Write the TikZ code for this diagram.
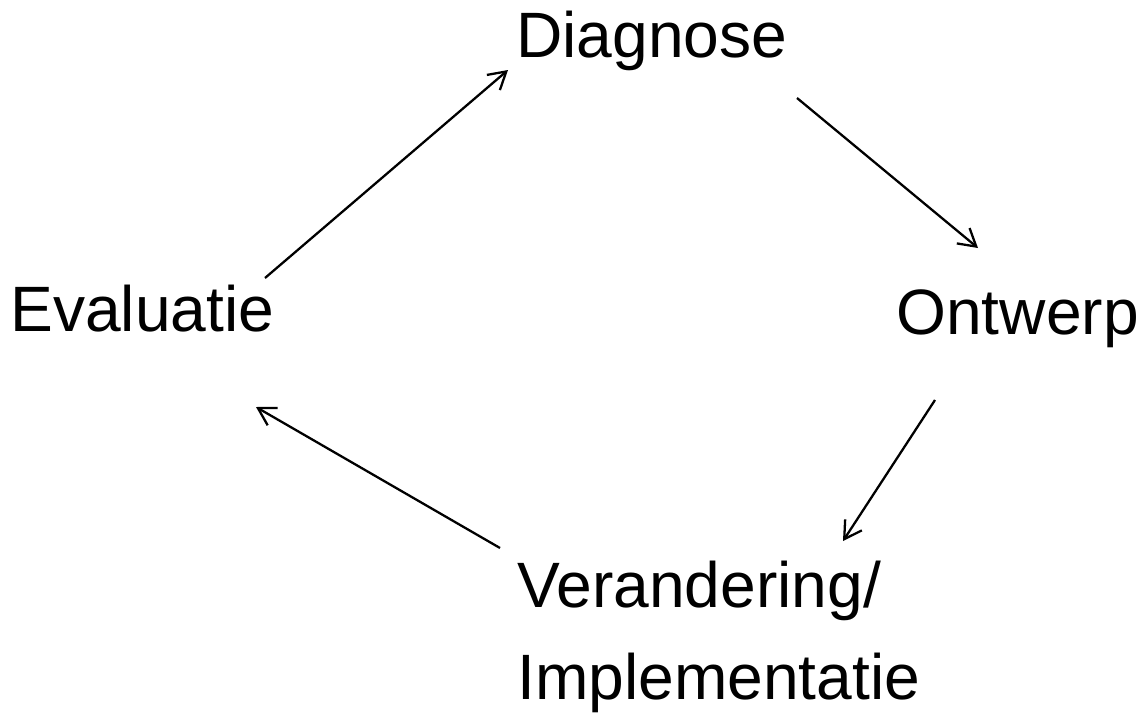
\documentclass[tikz,border=0pt]{standalone}
\usepackage{fontspec}
\setmainfont{Liberation Sans}
\usetikzlibrary{calc,arrows.meta}

\begin{document}
\begin{tikzpicture}[x=0.02cm, y=-0.02cm,
    phase/.style={font=\fontsize{36.5}{52.3}\selectfont, inner sep=0pt, anchor=base west, align=left},
    cycle/.style={line width=1.3pt, -{Straight Barb[length=3.4mm, width=4mm, line width=1.3pt]}}]
  \useasboundingbox (0,0) rectangle (1145,714);
  \node[phase] (diag) at (516,57) {Diagnose};
  \node[phase] (eval) at (10,331) {Evaluatie};
  \node[phase] (ontw) at (896,334) {Ontwerp};
  \node[phase] (impl) at (517,699) {Verandering/\\Implementatie};
  \draw[cycle] ($(eval.base west)+(255,-53)$) -- ($(diag.base west)+(-8,13)$);
  \draw[cycle] ($(diag.base west)+(281,41)$) -- ($(ontw.base west)+(82,-86)$);
  \draw[cycle] ($(ontw.base west)+(39,66)$) -- ($(impl.base west)+(326,-158)$);
  \draw[cycle] ($(impl.base west)+(-17,-151)$) -- ($(eval.base west)+(246,76)$);
\end{tikzpicture}
\end{document}
